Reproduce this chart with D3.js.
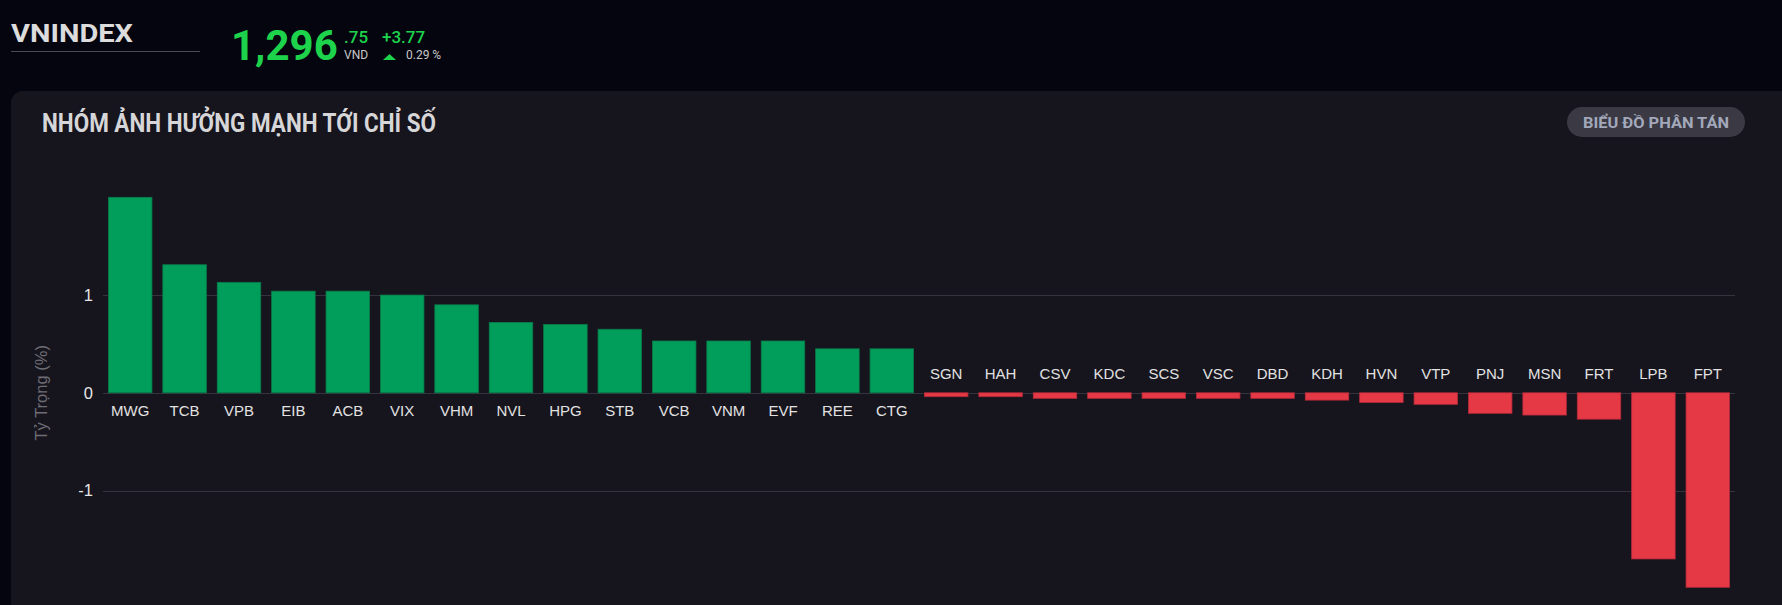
<!DOCTYPE html>
<html><head><meta charset="utf-8">
<script src="https://cdn.jsdelivr.net/npm/d3@7/dist/d3.min.js"></script>
<style>
html,body{margin:0;padding:0;background:#05050f;overflow:hidden;}
svg{display:block;}
</style></head>
<body>
<svg id="c" width="1782" height="605"></svg>
<script>
const categories = ["MWG","TCB","VPB","EIB","ACB","VIX","VHM","NVL","HPG","STB","VCB","VNM","EVF","REE","CTG",
  "SGN","HAH","CSV","KDC","SCS","VSC","DBD","KDH","HVN","VTP","PNJ","MSN","FRT","LPB","FPT"];
const weights = [2.00,1.31,1.13,1.04,1.04,1.00,0.90,0.72,0.70,0.65,0.53,0.53,0.53,0.45,0.45,
  -0.04,-0.04,-0.057,-0.057,-0.057,-0.057,-0.057,-0.075,-0.10,-0.118,-0.21,-0.228,-0.27,-1.70,-1.99];
const yTicks = [-1,0,1];
const yDomain = [-1.99, 2.0];

const svg = d3.select("#c");

// header
svg.append("text").attr("x",11).attr("y",42).text("VNINDEX")
  .attr("font-family","Roboto").attr("font-weight","bold").attr("font-size",26.5).attr("fill","#dcdcdc")
  .attr("textLength",122).attr("lengthAdjust","spacingAndGlyphs");
svg.append("line").attr("x1",11).attr("x2",200).attr("y1",51.5).attr("y2",51.5).attr("stroke","#4a4a55").attr("stroke-width",1);
svg.append("text").attr("x",231).attr("y",60).text("1,296")
  .attr("font-family","Roboto").attr("font-weight","bold").attr("font-size",42).attr("fill","#1ed34c");
svg.append("text").attr("x",344).attr("y",43).text(".75")
  .attr("font-family","Roboto").attr("font-weight","500").attr("font-size",17).attr("fill","#1ed34c");
svg.append("text").attr("x",344).attr("y",59).text("VND")
  .attr("font-family","Roboto").attr("font-size",12).attr("fill","#c8c8c8");
svg.append("text").attr("x",382).attr("y",43).text("+3.77")
  .attr("font-family","Roboto").attr("font-weight","500").attr("font-size",17).attr("fill","#1ed34c");
svg.append("path").attr("d","M383,60 L389.5,54 L396,60 Z").attr("fill","#1ed34c");
svg.append("text").attr("x",406).attr("y",59).text("0.29 %")
  .attr("font-family","Roboto").attr("font-size",12).attr("fill","#c8c8c8");

// panel
svg.append("rect").attr("x",11).attr("y",91).attr("width",1800).attr("height",600).attr("rx",12)
  .attr("fill","#16141d");
svg.append("text").attr("x",42).attr("y",132).text("NHÓM ẢNH HƯỞNG MẠNH TỚI CHỈ SỐ")
  .attr("font-family","Roboto").attr("font-weight","bold").attr("font-size",25).attr("fill","#d6d6d8")
  .attr("textLength",394).attr("lengthAdjust","spacingAndGlyphs");
svg.append("rect").attr("x",1567).attr("y",107).attr("width",178).attr("height",30).attr("rx",15)
  .attr("fill","#3a3944");
svg.append("text").attr("x",1656).attr("y",127.5).attr("text-anchor","middle").text("BIỂU ĐỒ PHÂN TÁN")
  .attr("font-family","Roboto").attr("font-weight","bold").attr("font-size",15).attr("fill","#a3a9bb")
  .attr("textLength",146).attr("lengthAdjust","spacingAndGlyphs");

// chart
const x = d3.scaleBand().domain(categories).range([103,1735]).paddingInner(0.2).paddingOuter(0.1);
const y = d3.scaleLinear().domain(yDomain).range([587.3,197.3]);

const yAxis = d3.axisLeft(y).tickValues(yTicks).tickSize(0).tickPadding(10).tickFormat(d => String(d));
const ga = svg.append("g").attr("transform","translate(103,0)").call(yAxis);
ga.select(".domain").remove();
ga.selectAll("text").attr("font-family","Liberation Sans, Arial").attr("font-size",16.5).attr("fill","#e6e6e6");

svg.append("g").selectAll("line").data(yTicks).join("line")
  .attr("x1",103).attr("x2",1735).attr("y1",d=>Math.round(y(d))+0.5).attr("y2",d=>Math.round(y(d))+0.5)
  .attr("stroke","#35333d").attr("stroke-width",1);

svg.append("text").attr("transform",`translate(47,${y(0)}) rotate(-90)`).attr("text-anchor","middle")
  .text("Tỷ Trọng (%)").attr("font-family","Liberation Sans, Arial").attr("font-size",16.5).attr("fill","#6e6d75");

svg.append("g").selectAll("rect").data(categories).join("rect")
  .attr("x",(d)=>x(d)).attr("width",x.bandwidth())
  .attr("y",(d,i)=>Math.min(y(weights[i]),y(0)))
  .attr("height",(d,i)=>Math.abs(y(weights[i])-y(0)))
  .attr("fill",(d,i)=>weights[i]>=0?"#009e5a":"#e63946")
  .attr("stroke",(d,i)=>weights[i]>=0?"#0a7a4a":"#b02a38").attr("stroke-width",0.8);

svg.append("g").selectAll("text").data(categories).join("text")
  .attr("x",d=>x(d)+x.bandwidth()/2)
  .attr("y",(d,i)=>weights[i]>=0? y(0)+23 : y(0)-14)
  .attr("text-anchor","middle").text(d=>d)
  .attr("font-family","Liberation Sans, Arial").attr("font-size",15).attr("fill","#e2e2e2");
</script>
</body></html>
